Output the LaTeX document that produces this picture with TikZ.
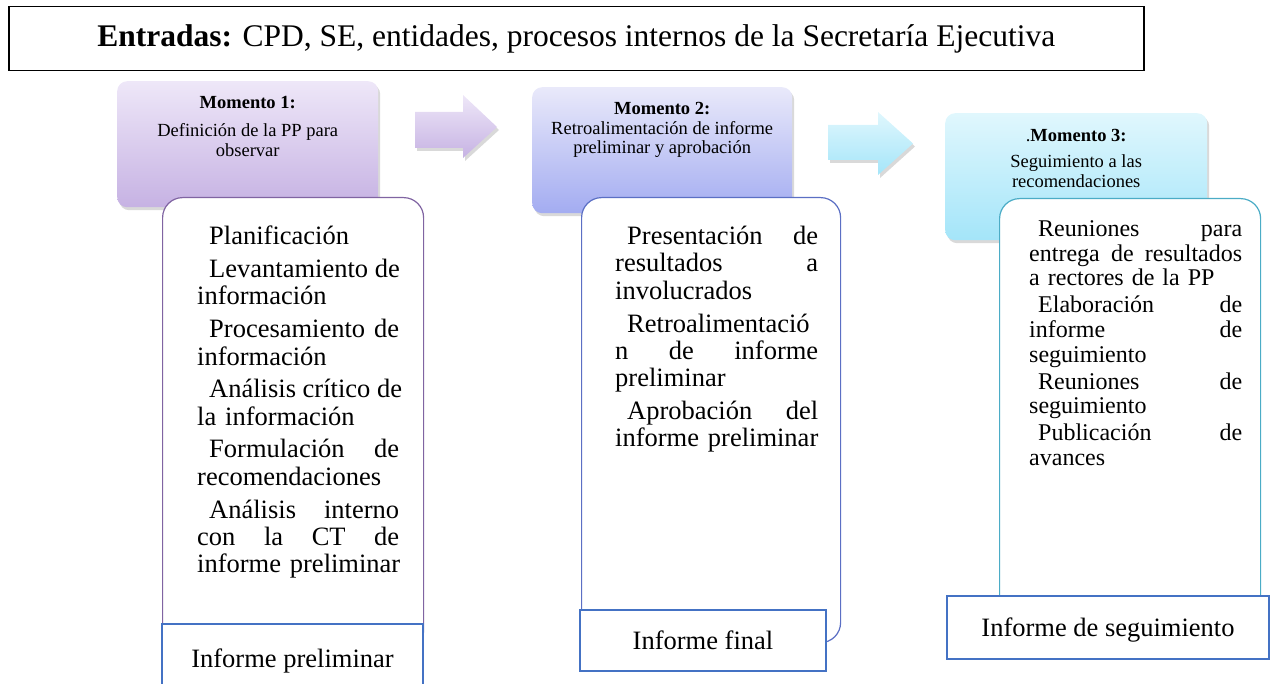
\documentclass[tikz,border=0pt]{standalone}
\usepackage{fontspec}
\setmainfont{Liberation Serif}
\usetikzlibrary{positioning,shadows}

\definecolor{lilaBorde}{HTML}{8064A2}
\definecolor{azulBorde}{HTML}{5B6FC4}
\definecolor{celesteBorde}{HTML}{4BACC6}
\definecolor{informeAzul}{HTML}{4472C4}
\definecolor{lilaArriba}{HTML}{EEE7F8}
\definecolor{lilaAbajo}{HTML}{C6B2E3}
\definecolor{azulArriba}{HTML}{E9E9FA}
\definecolor{azulAbajo}{HTML}{A3ACF1}
\definecolor{celesteArriba}{HTML}{E0F7FD}
\definecolor{celesteAbajo}{HTML}{A4E5F9}

% renglon justificado y sangria
\newlength{\anchoL}
\newcommand{\jus}[1]{\makebox[\anchoL][s]{\spaceskip=0.25em plus 20em\relax #1}}
\newcommand{\ind}[1][12pt]{\hspace*{#1}}

\tikzset{
  momento/.style={anchor=north west, rounded corners=10pt, inner sep=0pt,
    drop shadow={opacity=0.3, shadow xshift=2pt, shadow yshift=-3pt}},
  titulo/.style={anchor=north, align=center, inner sep=0pt,
    font=\fontsize{18.5}{19.5}\selectfont},
  lista/.style={anchor=north west, rounded corners=20pt, fill=white, line width=1.2pt, inner sep=0pt},
  texto/.style={inner sep=0pt, align=left, text width=#1, font=\fontsize{26.5}{27.3}\selectfont,
    execute at begin node={\hyphenpenalty=10000\setlength{\anchoL}{#1}}},
  informe/.style={draw=informeAzul, fill=white, line width=2pt, anchor=north west, inner sep=0pt,
    text height=18pt, text depth=0pt, font=\fontsize{26.5}{27.3}\selectfont},
  flecha/.style={drop shadow={opacity=0.3, shadow xshift=2pt, shadow yshift=-3pt}}
}

\begin{document}
\begin{tikzpicture}[x=1pt, y=-1pt]
    \useasboundingbox (0,0) rectangle (1270,684);

    \node[draw, line width=1.5pt, anchor=north west, minimum width=1135pt, minimum height=64pt,
        font=\fontsize{31.5}{34}\selectfont] (entradas) at (8,6)
        {\textbf{Entradas:} CPD, SE, entidades, procesos internos de la Secretaría Ejecutiva};

    % los tres momentos
    \node[momento, top color=lilaArriba, bottom color=lilaAbajo, minimum width=261pt, minimum height=126pt] (m1) at (117,81) {};
    \node[momento, top color=azulArriba, bottom color=azulAbajo, minimum width=260pt, minimum height=126pt] (m2) at (532,87) {};
    \node[momento, top color=celesteArriba, bottom color=celesteAbajo, minimum width=262pt, minimum height=127pt] (m3) at (945,113) {};

    \node[titulo, below=15.5pt of m1.north] (m1t) {\textbf{Momento 1:}\\[8.5pt] Definición de la PP para\\ observar};
    \node[titulo, below=15.5pt of m2.north] (m2t) {\textbf{Momento 2:}\\ Retroalimentación de informe\\ preliminar y aprobación};
    \node[titulo, below=16.5pt of m3.north] (m3t) {.\textbf{Momento 3:}\\[6.5pt] Seguimiento a las\\ recomendaciones};

    % flechas gruesas
    \path[flecha, top color=lilaArriba, bottom color=lilaAbajo]
        (415,112) -- (463,112) -- (463,95) -- (497,127) -- (463,158) -- (463,148) -- (415,148) -- cycle;
    \path[flecha, top color=celesteArriba, bottom color=celesteAbajo]
        (828,125) -- (878,125) -- (878,112) -- (913,143.5) -- (878,175) -- (878,160) -- (828,160) -- cycle;

    % listas de actividades
    \node[lista, draw=lilaBorde, minimum width=261pt, minimum height=453pt] (l1) at (162,197) {};
    \node[lista, draw=azulBorde, minimum width=259pt, minimum height=445pt] (l2) at (581,197) {};
    \node[lista, draw=celesteBorde, minimum width=261pt, minimum height=422pt] (l3) at (999,198) {};

    \node[texto=202pt, below right=29pt and 35pt of l1.north west] (t1) {%
        \ind Planificación\\[5.5pt]
        \jus{\ind Levantamiento de}\\ información\\[5.5pt]
        \jus{\ind Procesamiento de}\\ información\\[5.5pt]
        \jus{\ind Análisis crítico de}\\ la información\\[5.5pt]
        \jus{\ind Formulación de}\\ recomendaciones\\[5.5pt]
        \jus{\ind Análisis interno}\\ \jus{con la CT de}\\ \mbox{informe preliminar}};
    \node[texto=203pt, below right=29pt and 34pt of l2.north west] (t2) {%
        \jus{\ind Presentación de}\\ \jus{resultados a}\\ involucrados\\[5.5pt]
        \ind Retroalimentació\\ \jus{n de informe}\\ preliminar\\[5.5pt]
        \jus{\ind Aprobación del}\\ \mbox{informe preliminar}};
    \node[texto=213pt, font=\fontsize{24}{24.6}\selectfont,
        below right=22.6pt and 30pt of l3.north west] (t3) {%
        \jus{\ind[9pt]Reuniones para}\\ \jus{entrega de resultados}\\ a rectores de la PP\\[2.5pt]
        \jus{\ind[9pt]Elaboración de}\\ \jus{informe de}\\ seguimiento\\[2.5pt]
        \jus{\ind[9pt]Reuniones de}\\ seguimiento\\[2.5pt]
        \jus{\ind[9pt]Publicación de}\\ avances};

    % productos
    \node[informe, minimum width=261pt, minimum height=68pt] (i1) at (161,623) {Informe preliminar};
    \node[informe, minimum width=246pt, minimum height=61pt] (i2) at (579,609) {Informe final};
    \node[informe, minimum width=322pt, minimum height=63pt] (i3) at (946,595) {Informe de seguimiento};
\end{tikzpicture}
\end{document}
